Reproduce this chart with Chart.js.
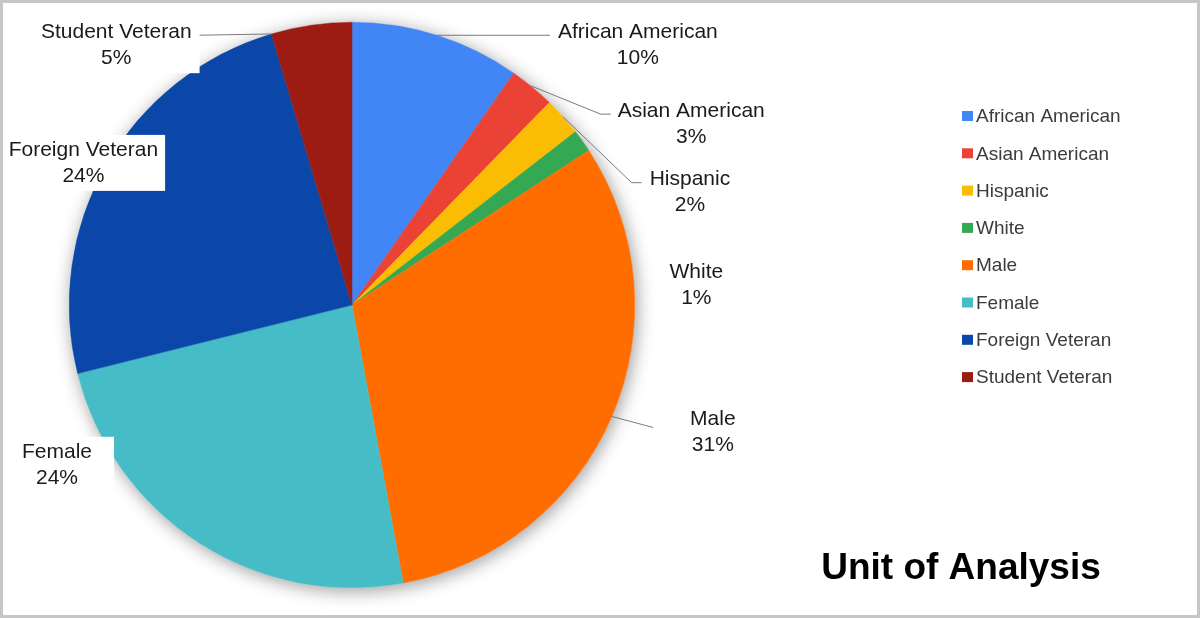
<!DOCTYPE html>
<html>
<head>
<meta charset="utf-8">
<script src="https://cdn.jsdelivr.net/npm/chart.js@4.4.1/dist/chart.umd.min.js"></script>
<style>
  html, body { margin: 0; padding: 0; background: #fff; }
  #c { display: block; }
</style>
</head>
<body>
<canvas id="c" width="1200" height="618"></canvas>
<script>
// data (percent of total)
const categories = ['African American', 'Asian American', 'Hispanic', 'White',
  'Male', 'Female', 'Foreign Veteran', 'Student Veteran'];
const shares = [9.7, 2.6, 2.2, 1.3, 31.3, 24.0, 24.3, 4.6];
const chartTitle = 'Unit of Analysis';

// slice colours
const sliceColors = ['#4285f4', '#ea4335', '#fbbc04', '#34a853',
  '#ff6d01', '#46bdc6', '#0b47a9', '#9c1b13'];

// label placement: offset of the text block from the slice's outer mid point,
// optional leader line, optional white backing box
const labelLayout = [
  { dx: 201, dy: 10, leader: { at: 0.5, side: 'right', gap: 8, elbow: 0 } },
  { dx: 159, dy: 37, leader: { at: 0.45, side: 'right', gap: 7, elbow: 10 } },
  { dx: 127, dy: 76, leader: { at: 0.5, side: 'right', gap: 8, elbow: 10 } },
  { dx: 114, dy: 144 },
  { dx: 101, dy: 16, leader: { at: 0.5, side: 'right', gap: 37, elbow: 0, dyEnd: 5 } },
  { dx: -142, dy: -78, box: [22, 22] },
  { dx: -23, dy: -2, box: [8, 7] },
  { dx: -195, dy: 20, leader: { at: 0, side: 'left', gap: 8, elbow: 0 }, box: [40, 8] }
];

const LABEL_FONT = '21px "Liberation Sans", Arial, sans-serif';
const LINE_H = 26;

// soft shadow under the whole pie
const pieShadow = {
  id: 'pieShadow',
  beforeDatasetsDraw(chart) {
    const arc = chart.getDatasetMeta(0).data[0];
    if (!arc) return;
    const ctx = chart.ctx;
    ctx.save();
    ctx.shadowColor = 'rgba(0,0,0,0.4)';
    ctx.shadowBlur = 18;
    ctx.shadowOffsetX = 2;
    ctx.shadowOffsetY = 3;
    ctx.fillStyle = '#fff';
    ctx.beginPath();
    ctx.arc(arc.x, arc.y, arc.outerRadius, 0, Math.PI * 2);
    ctx.fill();
    ctx.restore();
  }
};

// outside labels with leader lines
const sliceLabels = {
  id: 'sliceLabels',
  afterDatasetsDraw(chart) {
    const ctx = chart.ctx;
    const ds = chart.data.datasets[0];
    const total = ds.data.reduce((a, b) => a + b, 0);
    chart.getDatasetMeta(0).data.forEach((arc, i) => {
      const lay = labelLayout[i];
      const r = arc.outerRadius;
      const mid = (arc.startAngle + arc.endAngle) / 2;
      const ax = arc.x + r * Math.cos(mid);
      const ay = arc.y + r * Math.sin(mid);
      const cx = ax + lay.dx;
      const cy = ay + lay.dy;
      const lines = [chart.data.labels[i], Math.round(ds.data[i] / total * 100) + '%'];
      ctx.save();
      ctx.font = LABEL_FONT;
      const w = Math.max(...lines.map(t => ctx.measureText(t).width));
      const left = cx - w / 2, right = cx + w / 2;
      const y1 = cy - LINE_H / 2;

      if (lay.box) {
        ctx.fillStyle = '#fff';
        ctx.fillRect(left - lay.box[0], cy - 28, w + lay.box[0] + lay.box[1], 56);
      }

      if (lay.leader) {
        const L = lay.leader;
        const a = arc.startAngle + (arc.endAngle - arc.startAngle) * L.at;
        const sx = arc.x + r * Math.cos(a);
        const sy = arc.y + r * Math.sin(a);
        const ey = y1 + 3 + (L.dyEnd || 0);
        const ex = L.side === 'right' ? left - L.gap : right + L.gap;
        const bx = L.side === 'right' ? ex - L.elbow : ex + L.elbow;
        ctx.strokeStyle = '#7a7a7a';
        ctx.lineWidth = 1;
        ctx.beginPath();
        ctx.moveTo(sx, sy);
        ctx.lineTo(bx, ey);
        ctx.lineTo(ex, ey);
        ctx.stroke();
      }

      ctx.fillStyle = '#1a1a1a';
      ctx.textAlign = 'center';
      ctx.textBaseline = 'middle';
      lines.forEach((t, k) => ctx.fillText(t, cx, y1 + k * LINE_H));
      ctx.restore();
    });
  }
};

// legend, title and frame
const sideLegend = {
  id: 'sideLegend',
  afterDraw(chart) {
    const ctx = chart.ctx;
    const ds = chart.data.datasets[0];
    ctx.save();
    ctx.font = '19px "Liberation Sans", Arial, sans-serif';
    ctx.textBaseline = 'middle';
    chart.data.labels.forEach((lab, i) => {
      const y = 116 + i * 37.3;
      ctx.fillStyle = ds.backgroundColor[i];
      ctx.fillRect(962, y - 5, 11, 10);
      ctx.fillStyle = '#3c3c3c';
      ctx.fillText(lab, 976, y + 1);
    });

    ctx.font = 'bold 37px "Liberation Sans", Arial, sans-serif';
    ctx.fillStyle = '#000';
    ctx.textAlign = 'center';
    ctx.textBaseline = 'alphabetic';
    ctx.fillText(chartTitle, 961, 579);

    ctx.strokeStyle = '#c6c6c6';
    ctx.lineWidth = 3;
    ctx.strokeRect(1.5, 1.5, chart.width - 3, chart.height - 3);
    ctx.restore();
  }
};

new Chart(document.getElementById('c'), {
  type: 'pie',
  data: {
    labels: categories,
    datasets: [{
      data: shares,
      backgroundColor: sliceColors,
      borderColor: sliceColors,
      borderWidth: 0.5,
    }],
  },
  options: {
    responsive: false,
    animation: false,
    layout: { padding: { left: 69, top: 22, right: 565, bottom: 30 } },
    plugins: {
      legend: { display: false },
      tooltip: { enabled: false },
      title: { display: false },
    },
  },
  plugins: [pieShadow, sliceLabels, sideLegend],
});
</script>
</body>
</html>
